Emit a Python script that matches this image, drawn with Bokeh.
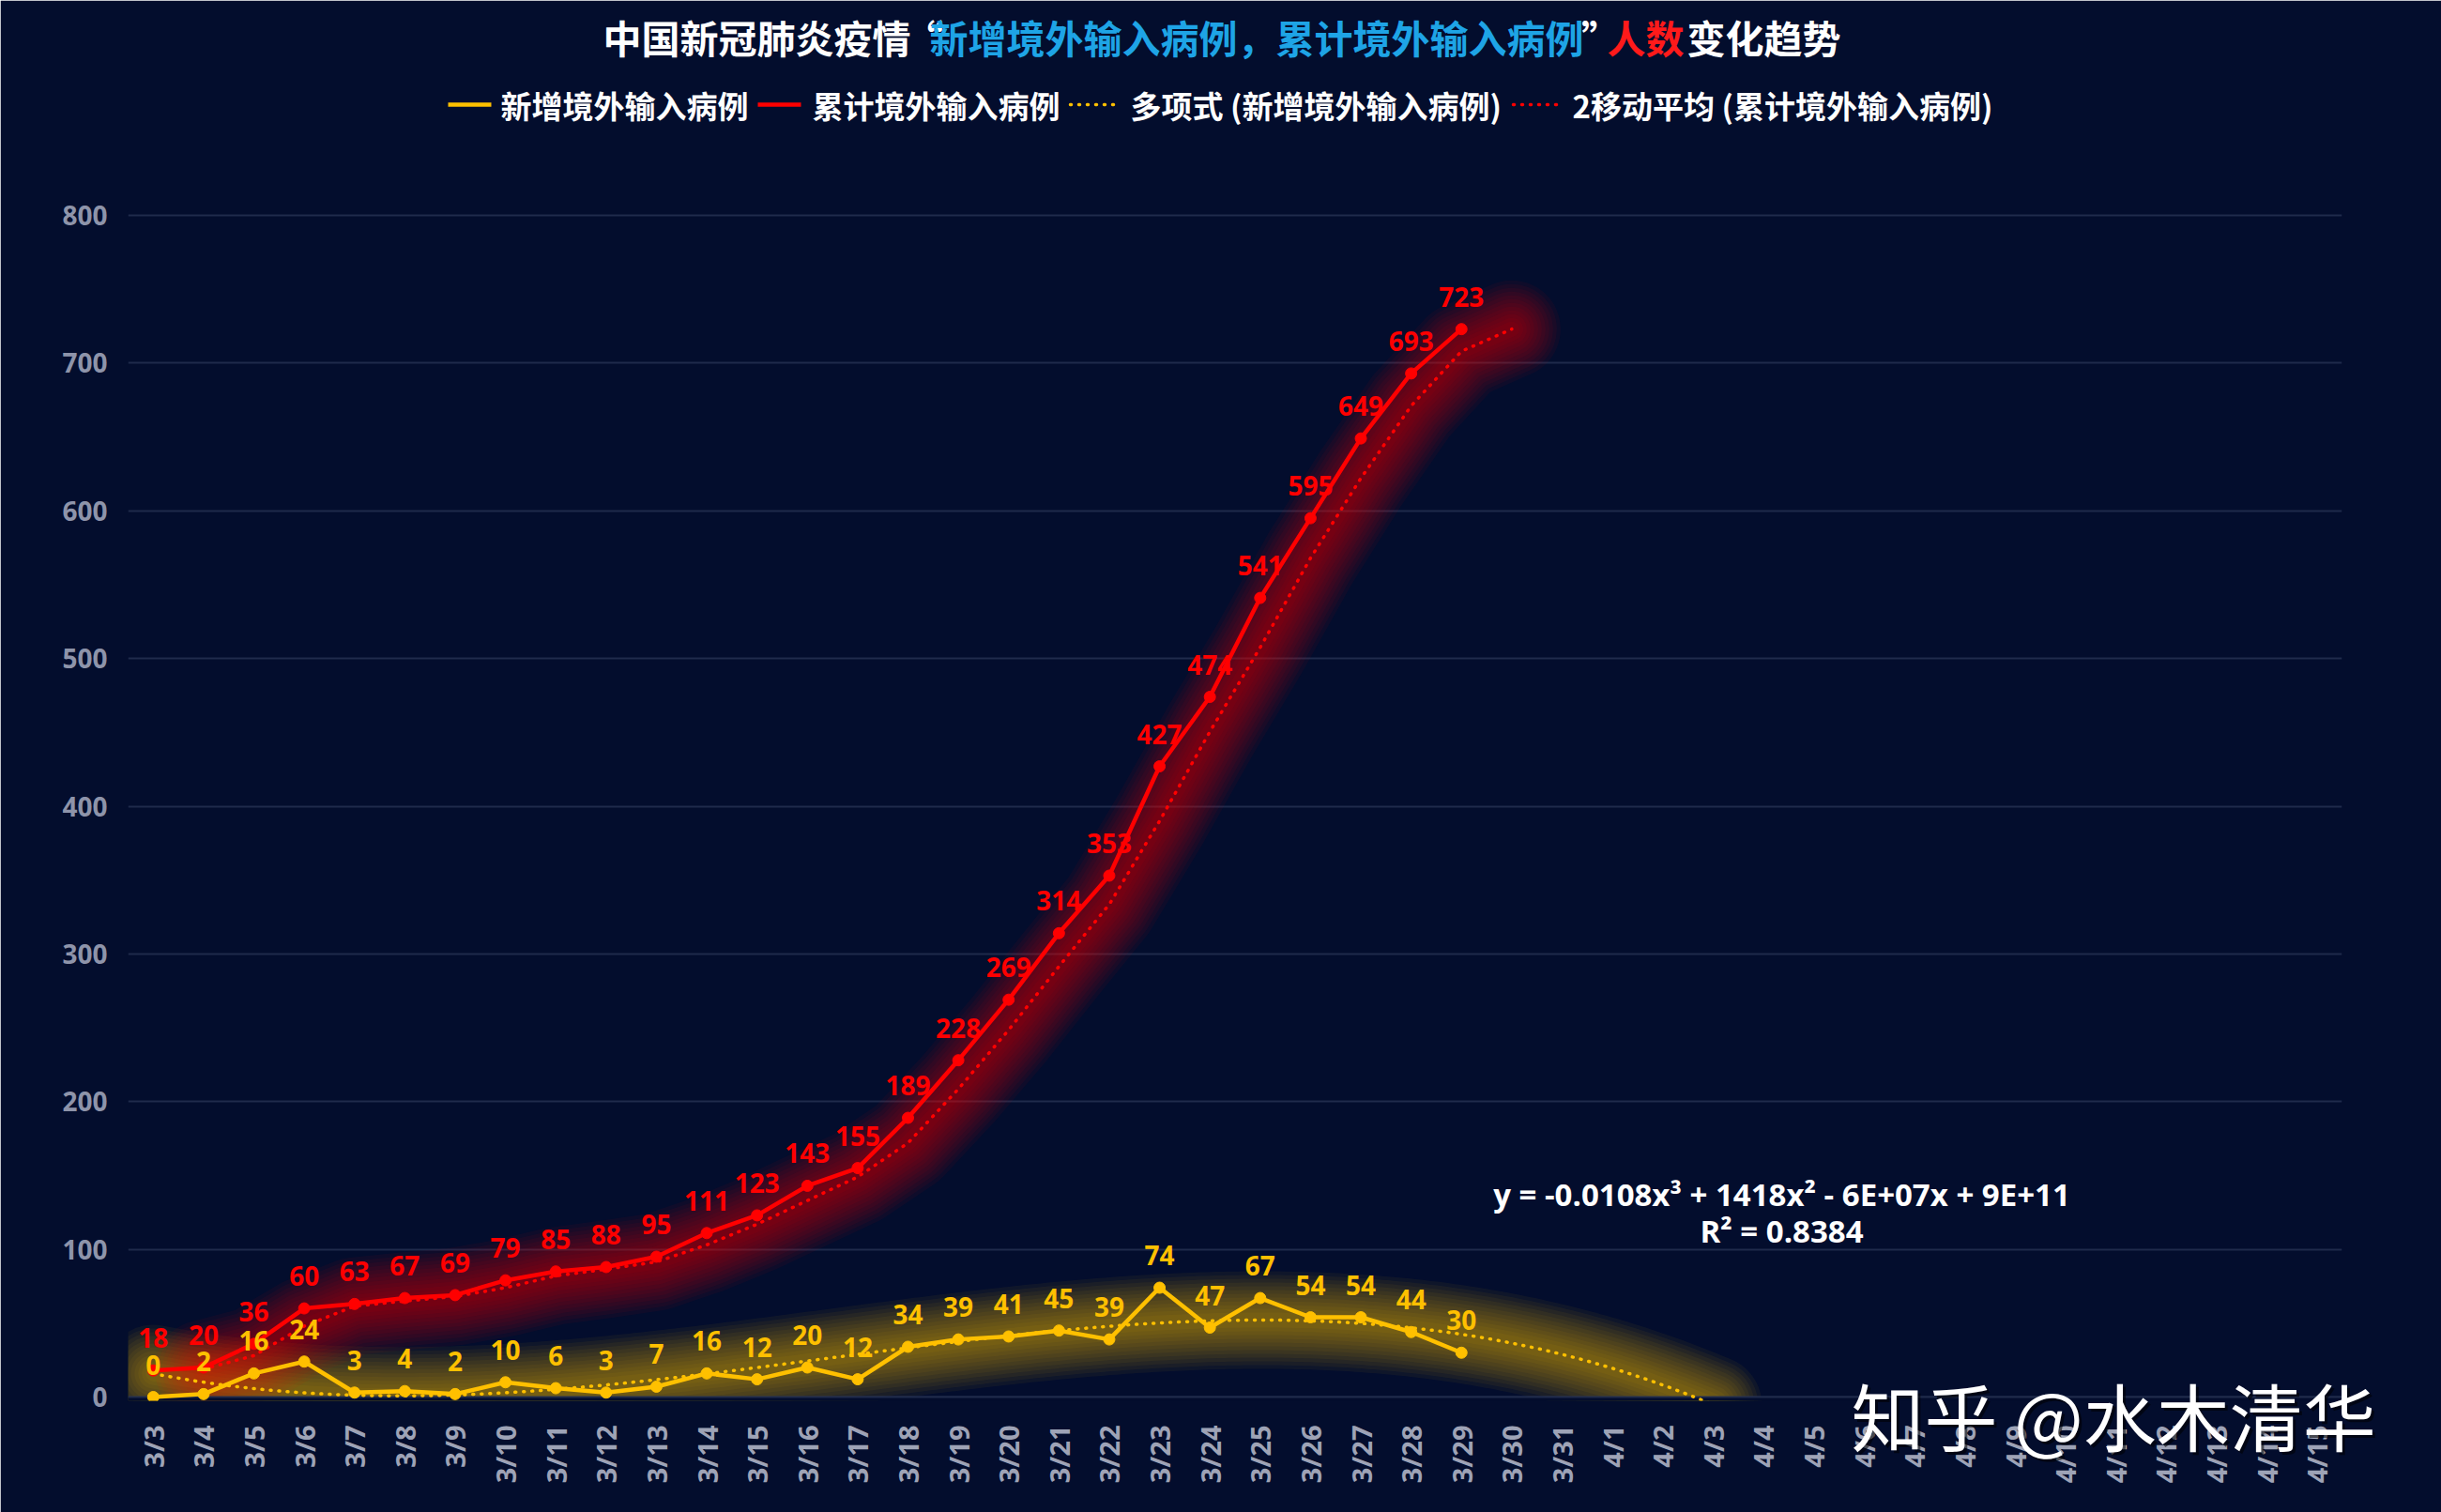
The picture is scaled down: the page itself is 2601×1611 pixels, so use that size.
import numpy as np
from bokeh.plotting import figure
from bokeh.models import ColumnDataSource, LabelSet, FixedTicker, Range1d
from bokeh.embed import file_html
from bokeh.resources import INLINE
from bokeh.core.properties import value

# ---------------- data ----------------
dates = ["3/3", "3/4", "3/5", "3/6", "3/7", "3/8", "3/9", "3/10", "3/11", "3/12",
         "3/13", "3/14", "3/15", "3/16", "3/17", "3/18", "3/19", "3/20", "3/21",
         "3/22", "3/23", "3/24", "3/25", "3/26", "3/27", "3/28", "3/29", "3/30",
         "3/31", "4/1", "4/2", "4/3", "4/4", "4/5", "4/6", "4/7", "4/8", "4/9",
         "4/10", "4/11", "4/12", "4/13", "4/14", "4/15"]
new_cases = [0, 2, 16, 24, 3, 4, 2, 10, 6, 3, 7, 16, 12, 20, 12, 34, 39, 41, 45,
             39, 74, 47, 67, 54, 54, 44, 30]
cumulative = [18, 20, 36, 60, 63, 67, 69, 79, 85, 88, 95, 111, 123, 143, 155, 189,
              228, 269, 314, 353, 427, 474, 541, 595, 649, 693, 723]
y_ticks = [0, 100, 200, 300, 400, 500, 600, 700, 800]
legend_names = ["新增境外输入病例", "累计境外输入病例",
                "多项式 (新增境外输入病例)", "2移动平均 (累计境外输入病例)"]
equation = "y = -0.0108x³ + 1418x² - 6E+07x + 9E+11"
r_squared = "R² = 0.8384"
title_parts = ["中国新冠肺炎疫情", "“", "新增境外输入病例，累计境外输入病例", "”", "人数", "变化趋势"]
watermark = "知乎 @水木清华"

# ---------------- styling ----------------
BG = "#030d2d"
YEL = "#ffc000"
RED = "#ff0000"
BLUE = "#1ea4e6"
GRID = "#1f2a4b"
TICK = "#8e94aa"
XTICK = "#9ea3b6"
CJK = "Noto Sans CJK SC"
LAT = "Open Sans"

W, H = 2601, 1611
PAD = 4                      # small pad so the frame outline never hides gridlines
Y_TOP_PX, Y_BOT_PX = 229, 1488   # pixel rows of 800 and 0
FL, FR = 136, 106
FT, FB = Y_TOP_PX - PAD, H - Y_BOT_PX - PAD
NCAT = len(dates)
frame_w = W - FL - FR
px_cat = frame_w / NCAT
px_unit = (Y_BOT_PX - Y_TOP_PX) / 800.0


def X(fx):  # page-pixel x -> data x
    return (fx - FL) / px_cat - 0.5


def Y(fy):  # page-pixel y -> data y
    return (Y_BOT_PX - fy) / px_unit


p = figure(width=W, height=H, output_backend="svg", toolbar_location=None,
           x_range=Range1d(-0.5, NCAT - 0.5),
           y_range=Range1d(-PAD / px_unit, 800 + PAD / px_unit),
           min_border_left=FL, min_border_right=FR, min_border_top=FT,
           min_border_bottom=FB)
p.background_fill_color = BG
p.border_fill_color = BG
p.outline_line_color = BG
p.outline_line_width = 3

# axes
p.xaxis.ticker = FixedTicker(ticks=list(range(NCAT)))
p.xaxis.major_label_overrides = {i: d for i, d in enumerate(dates)}
p.xaxis.major_label_orientation = np.pi / 2
p.xaxis.major_label_text_font = LAT
p.xaxis.major_label_text_font_style = "bold"
p.xaxis.major_label_text_font_size = "29px"
p.xaxis.major_label_text_color = XTICK
p.xaxis.major_label_standoff = 22 + PAD
p.yaxis.ticker = FixedTicker(ticks=y_ticks)
p.yaxis.major_label_text_font = LAT
p.yaxis.major_label_text_font_style = "bold"
p.yaxis.major_label_text_font_size = "28px"
p.yaxis.major_label_text_color = TICK
p.yaxis.major_label_standoff = 22
for ax in (p.xaxis, p.yaxis):
    ax.axis_line_color = None
    ax.major_tick_line_color = None
    ax.minor_tick_line_color = None
    ax.major_tick_out = 0
    ax.major_tick_in = 0
p.xgrid.grid_line_color = None
p.ygrid.grid_line_color = GRID
p.ygrid.grid_line_width = 2

# ---------------- derived trendlines ----------------
xi = np.arange(len(new_cases))
coef = np.polyfit(xi, new_cases, 3)
xt = np.linspace(0, len(new_cases) - 1 + 5, 300)
yt = np.polyval(coef, xt)
yt_glow = np.clip(yt, -PAD / px_unit, None)

ma_x = list(range(1, len(cumulative))) + [len(cumulative)]
ma_y = [(cumulative[i - 1] + cumulative[i]) / 2 for i in range(1, len(cumulative))] + [cumulative[-1]]

# glows (many faint strokes for a soft edge)
glow_widths = list(range(104, 8, -8))
for w in glow_widths:
    p.line(xt, yt, line_color=YEL, line_alpha=0.05, line_width=w,
           line_cap="round", line_join="round")
for w in glow_widths:
    p.line(ma_x, ma_y, line_color=RED, line_alpha=0.05, line_width=w,
           line_cap="round", line_join="round")
# the plot area ends at value 0: hide the thin strip of glow below it
p.varea(x=[-0.5, NCAT - 0.5], y1=[-PAD / px_unit] * 2, y2=[0, 0], fill_color=BG)
p.line([-0.5, NCAT - 0.5], [0, 0], line_color=GRID, line_width=2)

# trendlines
p.line(xt, yt, line_color=YEL, line_width=3.5, line_dash="1 8", line_cap="round")
p.line(ma_x, ma_y, line_color=RED, line_width=3.5, line_dash="1 8", line_cap="round")

# series
src_new = ColumnDataSource(dict(x=xi, y=new_cases, t=[str(v) for v in new_cases]))
src_cum = ColumnDataSource(dict(x=xi, y=cumulative, t=[str(v) for v in cumulative]))
p.line("x", "y", source=src_new, line_color=YEL, line_width=4.5)
p.scatter("x", "y", source=src_new, size=12, fill_color=YEL, line_color=YEL)
p.line("x", "y", source=src_cum, line_color=RED, line_width=4.5)
p.scatter("x", "y", source=src_cum, size=12, fill_color=RED, line_color=RED)

for src, col in ((src_new, YEL), (src_cum, RED)):
    p.add_layout(LabelSet(x="x", y="y", text="t", source=src, y_offset=24,
                          text_align="center", text_baseline="alphabetic",
                          text_color=col, text_font=value(LAT),
                          text_font_style="bold", text_font_size="28px"))


def txt(fx, fy, s, color, font, size, style="normal", align="left", alpha=1.0):
    p.text(x=[X(fx)], y=[Y(fy)], text=[s], text_color=color, text_alpha=alpha,
           text_font=value(font), text_font_size=size, text_font_style=style,
           text_align=align, text_baseline="middle", level="overlay")


# equation
txt(1898, 1272, equation, "white", LAT, "33px", "bold", "center")
txt(1898, 1311, r_squared, "white", LAT, "33px", "bold", "center")

# title
title_x = [642, 984, 990, 1705, 1712, 1797]
title_c = ["white", "white", BLUE, "white", "#ff1a1a", "white"]
title_al = ["left", "center", "left", "center", "left", "left"]
for s, fx, c, al in zip(title_parts, title_x, title_c, title_al):
    txt(fx, 38, s, c, CJK, "41px", "bold", al)

# legend
LEG_Y = 111
LY = Y(LEG_Y)
leg_line = [(477, 523), (807, 853), (1140, 1191), (1612, 1664)]
leg_text_x = [533, 865, 1204, 1675]
leg_col = [YEL, RED, YEL, RED]
for k in range(4):
    a, b = leg_line[k]
    if k < 2:
        p.line([X(a), X(b)], [LY, LY], line_color=leg_col[k], line_width=4.5,
               level="overlay")
        p.scatter([X((a + b) / 2)], [LY], size=15, fill_color=leg_col[k],
                  line_color=leg_col[k], level="overlay")
    else:
        p.line([X(a), X(b)], [LY, LY], line_color=leg_col[k], line_width=3.5,
               line_dash="1 8", line_cap="round", level="overlay")
    txt(leg_text_x[k], LEG_Y, legend_names[k], "white", CJK, "33px", "bold", "left")

# watermark with shadow
txt(1975, 1509, watermark, "black", CJK, "78px", "normal", "left", 0.55)
txt(1972, 1506, watermark, "white", CJK, "78px", "normal", "left")

html = file_html(p, INLINE)
html = html.replace("<body>", '<body style="background-color:#030d2d;">', 1)
open("out.html", "w").write(html)
